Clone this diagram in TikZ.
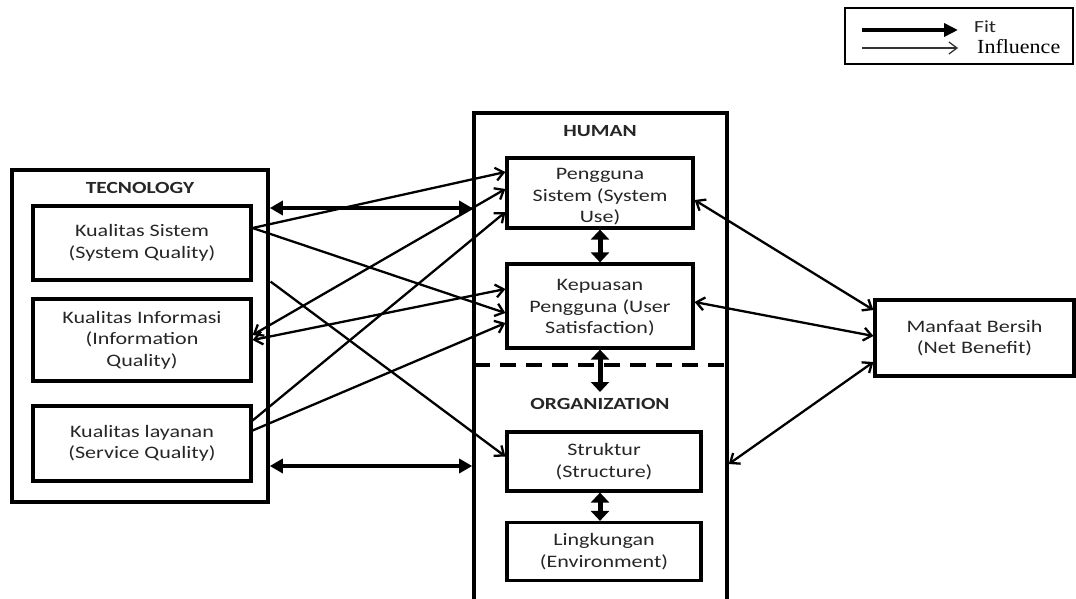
\documentclass[tikz,border=0pt]{standalone}
\usepackage{fontspec}
\setmainfont{Carlito}[FakeStretch=1.26]
\newfontfamily\serifleg{Liberation Serif}[FakeStretch=1.1]
\usetikzlibrary{arrows.meta,calc}
\begin{document}
\begin{tikzpicture}[x=1pt,y=-1pt,
  box/.style={draw, line width=3.2pt, rectangle, align=center, inner sep=0pt,
    font=\fontsize{17.5}{21.5}\selectfont, text=black!85},
  outer/.style={draw, line width=3.6pt, rectangle, inner sep=0pt},
  title/.style={font=\fontsize{17}{18}\selectfont\bfseries, text=black!85},
  infl/.style={line width=2.3pt, {Straight Barb[length=8pt,width=13pt,line width=2.3pt]}-{Straight Barb[length=8pt,width=13pt,line width=2.3pt]}},
  inflone/.style={line width=2.3pt, -{Straight Barb[length=8pt,width=13pt,line width=2.3pt]}},
  fitarr/.style={line width=4.5pt, {Triangle[length=13pt,width=14pt]}-{Triangle[length=13pt,width=14pt]}},
  fitv/.style={line width=5pt, {Triangle[length=10pt,width=18pt]}-{Triangle[length=10pt,width=18pt]}},
]
\useasboundingbox (0,0) rectangle (1076,599);
\clip (0,0) rectangle (1076,599);

% legend
\node[draw, line width=2.8pt, minimum width=228pt, minimum height=56pt, inner sep=0pt] (leg) at (959,36) {};
\coordinate (l1a) at (862,30); \coordinate (l1b) at (958,30);
\coordinate (l2a) at (862,48); \coordinate (l2b) at (958,48);
\draw[line width=4pt, -{Triangle[length=14pt,width=13pt]}] (l1a) -- (l1b);
\draw[line width=1.3pt, black!80, -{Straight Barb[length=8pt,width=12pt,line width=1.3pt]}] (l2a) -- (l2b);
\node[anchor=west, inner sep=0pt, font=\fontsize{17}{18}\selectfont, text=black!85] (fitl) at (974,27) {Fit};
\node[anchor=west, inner sep=0pt, font=\serifleg\fontsize{20}{22}\selectfont] (infll) at (977,47) {Influence};

% technology
\node[outer, minimum width=256pt, minimum height=332pt] (tech) at (140,336) {};
\node[title] (techt) at (140,188) {TECNOLOGY};
\node[box, minimum width=218pt, minimum height=74pt] (ks) at (142,243) {Kualitas Sistem\\(System Quality)};
\node[box, minimum width=218pt, minimum height=82pt] (ki) at (142,340) {Kualitas Informasi\\(Information\\Quality)};
\node[box, minimum width=218pt, minimum height=75pt] (kl) at (142,443.5) {Kualitas layanan\\(Service Quality)};

% human / organization
\node[outer, minimum width=253pt, minimum height=520pt] (cen) at (600.5,373) {};
\node[title] (humt) at (600,131) {HUMAN};
\node[box, minimum width=186pt, minimum height=70pt] (ps) at (600,193) {};
\node[font=\fontsize{17.5}{21.5}\selectfont, text=black!85, align=center, inner sep=0pt] (pst) at (600,197) {Pengguna\\Sistem (System\\Use)};
\node[box, minimum width=186pt, minimum height=84pt] (kp) at (600,306) {};
\node[font=\fontsize{17.5}{21.5}\selectfont, text=black!85, align=center, inner sep=0pt] (kpt) at (600,308) {Kepuasan\\Pengguna (User\\Satisfaction)};
\coordinate (dl) at (474,365); \coordinate (dr) at (727,365);
\draw[line width=4.5pt, dash pattern=on 16pt off 10pt] (dl) -- (dr);
\node[title] (orgt) at (600,404) {ORGANIZATION};
\node[box, minimum width=194pt, minimum height=59pt] (st) at (604,461.5) {Struktur\\(Structure)};
\node[box, minimum width=194pt, minimum height=58pt] (li) at (604,551.5) {Lingkungan\\(Environment)};

% net benefit
\node[box, minimum width=199pt, minimum height=76pt] (mb) at (974.5,338) {Manfaat Bersih\\(Net Benefit)};

% thick fit arrows
\draw[fitarr] (tech.east |- 0,208) -- (cen.west |- 0,208);
\draw[fitarr] (tech.east |- 0,466) -- (cen.west |- 0,466);
\draw[fitv] (ps.south) -- (kp.north);
\coordinate (orgtop) at (600,392);
\draw[fitv] (kp.south) -- (orgtop);
\draw[fitv] ([xshift=-4pt]st.south) -- ([xshift=-4pt]li.north);

% influence arrows
\draw[inflone] ([yshift=15pt]ks.east) -- ([yshift=21pt]ps.west);
\draw[inflone] ([yshift=15pt]ks.east) -- ([yshift=-7pt]kp.west);
\draw[inflone] ([xshift=18pt]ks.south east) -- ([yshift=5pt]st.west);
\draw[infl] ([yshift=5pt]ki.east) -- ([yshift=4pt]ps.west);
\draw[infl] (ki.east) -- ([yshift=17pt]kp.west);
\draw[inflone] ([yshift=23pt]kl.east) -- ([yshift=-19pt]ps.west);
\draw[inflone] ([yshift=13pt]kl.east) -- ([yshift=-17pt]kp.west);

\draw[infl] ([yshift=-7pt]ps.east) -- ([yshift=28pt]mb.west);
\draw[infl] ([yshift=4pt]kp.east) -- ([yshift=2pt]mb.west);
\draw[infl] (cen.east |- 0,464) -- ([yshift=-24pt]mb.west);
\end{tikzpicture}
\end{document}
